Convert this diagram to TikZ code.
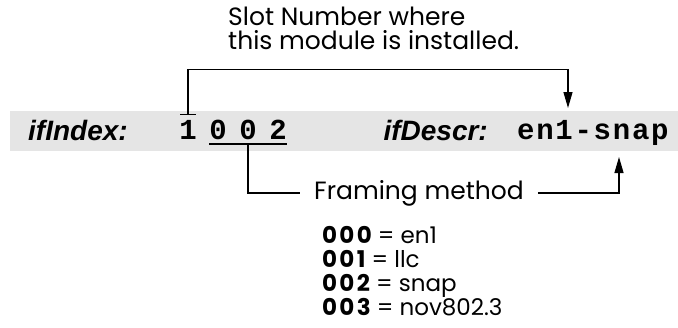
\documentclass[tikz,border=0pt]{standalone}
\usepackage{fontspec}
\setmainfont{Poppins}
\newfontfamily\labfont{Liberation Sans}
\newfontfamily\codefont[LetterSpace=6]{Liberation Mono}
\newcommand\codenum[1]{{\bfseries\addfontfeature{LetterSpace=10}#1}}
\usetikzlibrary{arrows.meta}

\begin{document}
\begin{tikzpicture}[x=1pt,y=-1pt,
  every node/.style={inner sep=0pt},
  tag/.style={font=\labfont\bfseries\itshape\fontsize{28}{28}\selectfont},
  code/.style={font=\codefont\bfseries\fontsize{29}{29}\selectfont},
  note/.style={font=\fontsize{25}{24}\selectfont},
  wire/.style={line width=1.2pt},
  tip/.style={-{Triangle[length=16pt,width=9pt]}}]
  \useasboundingbox (0,0) rectangle (678,327);
  % Gray band behind the index line
  \fill[gray!20] (10,111) rectangle (678,151);
  % Labels and values
  \node[tag, anchor=base west] (index) at (28,140) {ifIndex:};
  \node[code, anchor=base] (d1) at (188,139) {1};
  \node[code, anchor=base] (d2) at (218,139) {0};
  \node[code, anchor=base] (d3) at (248,139) {0};
  \node[code, anchor=base] (d4) at (278,139) {2};
  \node[tag, anchor=base east] (descr) at (488,140) {ifDescr:};
  \node[code, anchor=base west] (snap) at (517,139) {en1-snap};
  % Notes
  \node[note, anchor=north west, align=left] (slot) at (228,7)
    {Slot Number where\\this module is installed.};
  \node[note, inner xsep=14pt] (frm) at (419,193) {Framing method};
  \node[note, anchor=north west, align=left,
    font=\fontsize{23}{24}\selectfont] (codes) at (322,226)
    {\codenum{000} = en1\\\codenum{001} = llc\\\codenum{002} = snap\\\codenum{003} = nov802.3};
  % Slot bracket
  \coordinate (pin) at ([yshift=5pt]d1.north);
  \coordinate (descrin) at (568,108);
  \draw[wire] ([xshift=-8pt]pin) -- ([xshift=8pt]pin);
  \draw[wire, tip] (pin) -- ++(0,-45) -| (descrin);
  % Framing bracket
  \coordinate (snapin) at (619,157);
  \draw[wire] ([yshift=-5pt]d2.base west) -- ([yshift=-5pt]d4.base east);
  \draw[wire] ([yshift=-5pt]d3.base) |- (frm);
  \draw[wire, tip] (frm) -| (snapin);
\end{tikzpicture}
\end{document}
